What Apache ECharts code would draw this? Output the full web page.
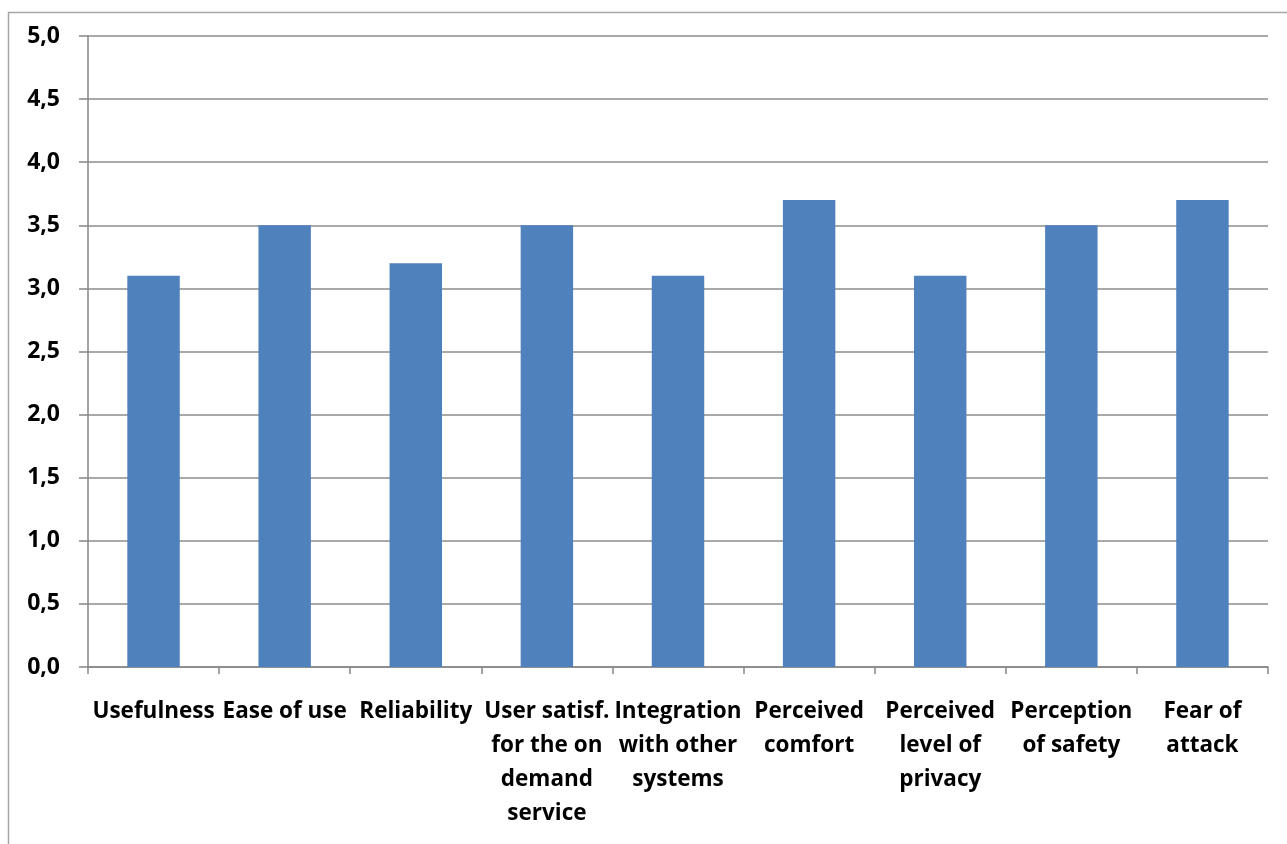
<!DOCTYPE html>
<html>
<head>
<meta charset="utf-8">
<script src="https://cdn.jsdelivr.net/npm/echarts@6/dist/echarts.min.js"></script>
<style>
  html, body { margin: 0; padding: 0; background: #fff; }
  #chart { width: 1287px; height: 844px; }
</style>
</head>
<body>
<div id="chart"></div>
<script>
// Mean ratings per evaluation dimension (scale 0–5)
const categories = [
  'Usefulness',
  'Ease of use',
  'Reliability',
  'User satisf.\nfor the on\ndemand\nservice',
  'Integration\nwith other\nsystems',
  'Perceived\ncomfort',
  'Perceived\nlevel of\nprivacy',
  'Perception\nof safety',
  'Fear of\nattack'
];
const scores = [3.1, 3.5, 3.2, 3.5, 3.1, 3.7, 3.1, 3.5, 3.7];

const yMin = 0;
const yMax = 5;
const yStep = 0.5;

const chart = echarts.init(document.getElementById('chart'));
const labelFont = '"Open Sans", Lato, sans-serif';

chart.setOption({
  animation: false,
  graphic: [{
    type: 'rect',
    shape: { x: 8.5, y: 12.5, width: 1400, height: 1000 },
    style: { fill: 'none', stroke: '#a6a6a6', lineWidth: 1.5 },
    silent: true,
    z: -1
  }],
  grid: { left: 88, right: 19, top: 36, bottom: 177 },
  xAxis: {
    type: 'category',
    data: categories,
    axisLine: { lineStyle: { color: '#868686', width: 1.5 } },
    axisTick: { show: true, length: 7, lineStyle: { color: '#868686', width: 1.5 } },
    axisLabel: {
      interval: 0,
      margin: 28,
      color: '#000',
      fontFamily: labelFont,
      fontWeight: 'bold',
      fontSize: 22.5,
      lineHeight: 34
    }
  },
  yAxis: {
    type: 'value',
    min: yMin,
    max: yMax,
    interval: yStep,
    axisLine: { show: true, lineStyle: { color: '#868686', width: 1.5 } },
    axisTick: { show: true, length: 9, lineStyle: { color: '#868686', width: 1.5 } },
    splitLine: { lineStyle: { color: '#8c8c8c', width: 1.5 } },
    axisLabel: {
      margin: 28,
      color: '#000',
      fontFamily: labelFont,
      fontWeight: 'bold',
      fontSize: 23,
      formatter: v => v.toFixed(1).replace('.', ',')
    }
  },
  series: [{
    type: 'bar',
    data: scores,
    barWidth: '40%',
    itemStyle: { color: '#4f81bd' }
  }]
});
</script>
</body>
</html>
